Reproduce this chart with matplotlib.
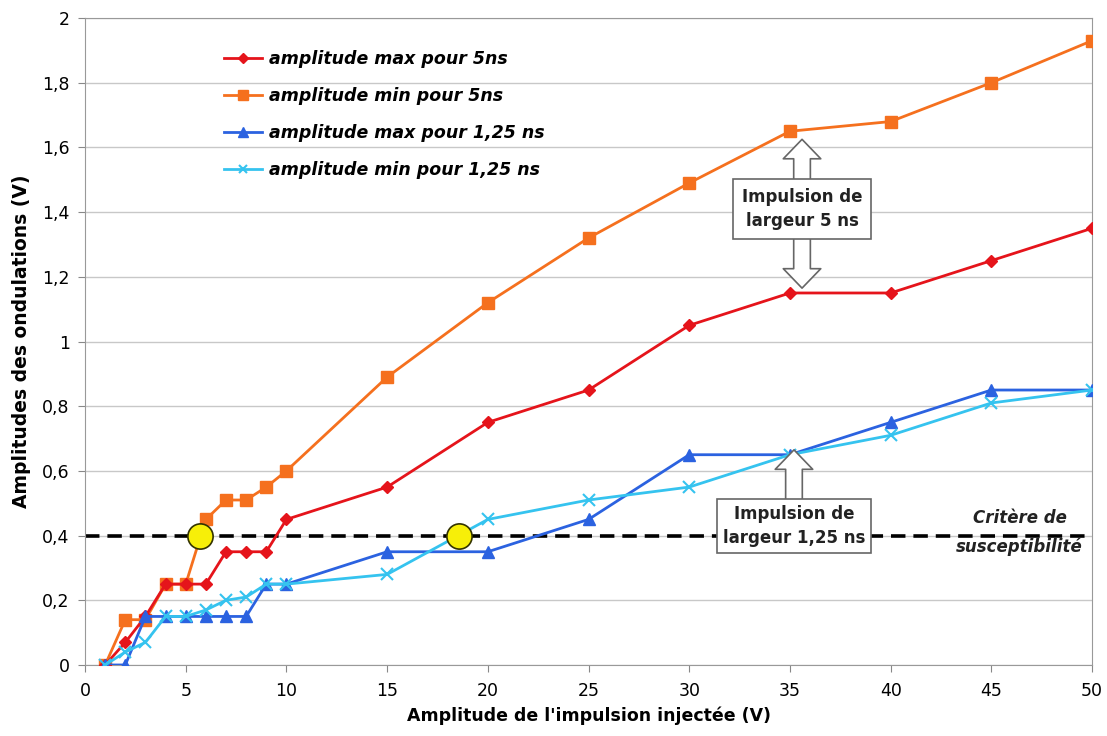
import matplotlib
matplotlib.use('Agg')
import matplotlib.pyplot as plt
from matplotlib.ticker import FuncFormatter

# injected pulse amplitude (V)
x = [1, 2, 3, 4, 5, 6, 7, 8, 9, 10, 15, 20, 25, 30, 35, 40, 45, 50]

max_5ns  = [0, 0.07, 0.15, 0.25, 0.25, 0.25, 0.35, 0.35, 0.35, 0.45,
            0.55, 0.75, 0.85, 1.05, 1.15, 1.15, 1.25, 1.35]
min_5ns  = [0, 0.14, 0.14, 0.25, 0.25, 0.45, 0.51, 0.51, 0.55, 0.60,
            0.89, 1.12, 1.32, 1.49, 1.65, 1.68, 1.80, 1.93]
max_125  = [0, 0.0, 0.15, 0.15, 0.15, 0.15, 0.15, 0.15, 0.25, 0.25,
            0.35, 0.35, 0.45, 0.65, 0.65, 0.75, 0.85, 0.85]
min_125  = [0, 0.04, 0.07, 0.15, 0.15, 0.17, 0.20, 0.21, 0.25, 0.25,
            0.28, 0.45, 0.51, 0.55, 0.65, 0.71, 0.81, 0.85]

labels = ['amplitude max pour 5ns', 'amplitude min pour 5ns',
          'amplitude max pour 1,25 ns', 'amplitude min pour 1,25 ns']

threshold = 0.4
crossings_x = [5.7, 18.55]

fig = plt.figure(figsize=(11.07, 7.36), dpi=100)
ax = fig.add_axes([0.0768, 0.0965, 0.9097, 0.879])

ax.axhline(threshold, color='black', lw=2.6, ls=(0, (4, 2.2)), zorder=2)

ax.plot(x, max_5ns, color='#e5141b', lw=2, marker='D', ms=6, label=labels[0], zorder=4)
ax.plot(x, min_5ns, color='#f5701e', lw=2, marker='s', ms=9, label=labels[1], zorder=3)
ax.plot(x, max_125, color='#2b62e0', lw=2, marker='^', ms=9, label=labels[2], zorder=4)
ax.plot(x, min_125, color='#35c3ef', lw=2, marker='x', ms=8, mew=1.5, label=labels[3], zorder=5)

ax.scatter(crossings_x, [threshold] * len(crossings_x), s=330, color='#f7ef08',
           edgecolor='#333300', lw=1.2, zorder=6)

ax.set_xlim(0, 50)
ax.set_ylim(0, 2)
ax.set_xticks(range(0, 51, 5))
ax.set_yticks([i * 0.2 for i in range(11)])
ax.yaxis.set_major_formatter(FuncFormatter(lambda v, p: f'{v:g}'.replace('.', ',')))
ax.tick_params(labelsize=12.5, color='#888888', length=5)
ax.tick_params(axis='x', pad=7)
ax.tick_params(axis='y', pad=6)
ax.yaxis.grid(True, color='#c8c8c8', lw=1)
ax.set_axisbelow(True)
for s in ax.spines.values():
    s.set_color('#999999')

ax.set_xlabel("Amplitude de l'impulsion injectée (V)", fontsize=12.5,
              fontweight='bold', labelpad=5)
ax.set_ylabel('Amplitudes des ondulations (V)', fontsize=13.5,
              fontweight='bold', labelpad=8)

leg = ax.legend(loc='upper left', bbox_to_anchor=(0.122, 0.975), frameon=False,
                prop={'weight': 'bold', 'style': 'italic', 'size': 12.5},
                handlelength=2.2, handletextpad=0.4, labelspacing=1.1, markerscale=0.8)

# double arrow for 5 ns
arrow = dict(arrowstyle='simple,head_width=2.7,head_length=1.4,tail_width=1.2',
             fc='white', ec='#666666', lw=1.2, shrinkA=0, shrinkB=0)
ax.annotate('', xy=(35.6, 1.625), xytext=(35.6, 1.41), arrowprops=arrow, zorder=7)
ax.annotate('', xy=(35.6, 1.165), xytext=(35.6, 1.41), arrowprops=arrow, zorder=7)
ax.text(35.6, 1.41, 'Impulsion de\nlargeur 5 ns', ha='center', va='center',
        fontsize=12, fontweight='bold', color='#222222', linespacing=1.45, zorder=8,
        bbox=dict(boxstyle='square,pad=0.55', fc='white', ec='#666666', lw=1.2))

# arrow for 1.25 ns
ax.annotate('', xy=(35.2, 0.665), xytext=(35.2, 0.43), arrowprops=arrow, zorder=7)
ax.text(35.2, 0.43, 'Impulsion de\nlargeur 1,25 ns', ha='center', va='center',
        fontsize=12, fontweight='bold', color='#222222', linespacing=1.4, zorder=8,
        bbox=dict(boxstyle='square,pad=0.35', fc='white', ec='#666666', lw=1.2))

ax.text(46.4, 0.455, 'Critère de', ha='center', va='center', fontsize=12,
        fontweight='bold', style='italic', color='#222222', zorder=8)
ax.text(46.4, 0.367, 'susceptibilité', ha='center', va='center', fontsize=12,
        fontweight='bold', style='italic', color='#222222', zorder=8)

fig.savefig('out.png', dpi=100)
